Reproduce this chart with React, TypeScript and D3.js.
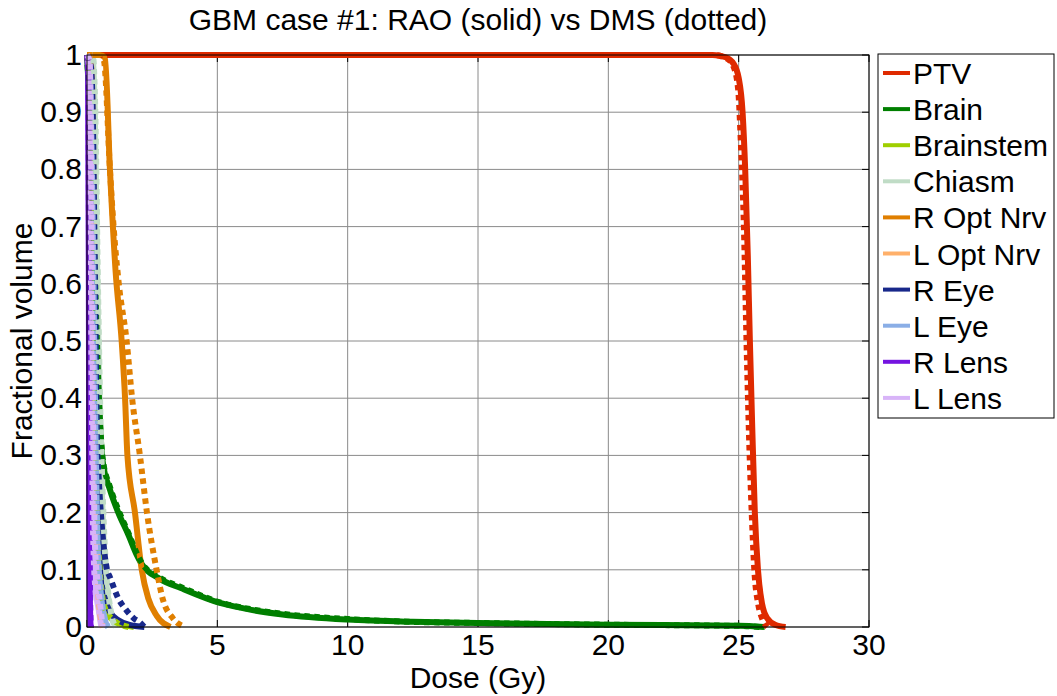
import React, { useEffect, useRef } from "react";
import * as d3 from "d3";

const title = "GBM case #1: RAO (solid) vs DMS (dotted)";
const xLabel = "Dose (Gy)";
const yLabel = "Fractional volume";
const xTicks = [0, 5, 10, 15, 20, 25, 30];
const yTicks = [0, 0.1, 0.2, 0.3, 0.4, 0.5, 0.6, 0.7, 0.8, 0.9, 1];

const structures = ["PTV", "Brain", "Brainstem", "Chiasm", "R Opt Nrv", "L Opt Nrv", "R Eye", "L Eye", "R Lens", "L Lens"];
const colors = ["#df2a00", "#007f00", "#9fcf00", "#c0dcc6", "#e07f00", "#ffb06a", "#18288a", "#8aaee6", "#7414e0", "#d8b4f8"];

// [dose (Gy), fractional volume]
const ptvRAO = [[0, 1], [24, 1], [24.5, 0.996], [24.8, 0.985], [25.0, 0.96], [25.15, 0.9], [25.25, 0.8], [25.35, 0.65], [25.43, 0.5], [25.52, 0.35], [25.62, 0.2], [25.74, 0.1], [25.9, 0.04], [26.1, 0.015], [26.4, 0.004], [26.8, 0]];
const ptvDMS = [[0, 1], [24, 1], [24.5, 0.995], [24.8, 0.98], [24.98, 0.94], [25.08, 0.85], [25.2, 0.7], [25.3, 0.5], [25.4, 0.33], [25.5, 0.2], [25.6, 0.1], [25.75, 0.04], [25.9, 0.015], [26.1, 0]];
const brainRAO = [[0, 1], [0.15, 0.85], [0.3, 0.6], [0.45, 0.4], [0.6, 0.29], [0.88, 0.24], [1.2, 0.2], [1.6, 0.16], [1.9, 0.127], [2.1, 0.11], [2.8, 0.084], [3.6, 0.068], [5.1, 0.042], [6.3, 0.03], [7.5, 0.022], [10, 0.013], [12.5, 0.009], [15, 0.007], [20, 0.004], [25, 0.002], [26, 0]];
const brainDMS = [[0, 1], [0.15, 0.86], [0.3, 0.62], [0.45, 0.41], [0.6, 0.295], [0.88, 0.245], [1.2, 0.205], [1.6, 0.163], [1.9, 0.13], [2.1, 0.112], [2.8, 0.086], [3.6, 0.07], [5.1, 0.043], [6.3, 0.031], [7.5, 0.023], [10, 0.014], [12.5, 0.009], [15, 0.007], [20, 0.004], [25, 0.002], [25.8, 0]];
const brainstemRAO = [[0, 1], [0.1, 0.95], [0.2, 0.7], [0.3, 0.4], [0.4, 0.2], [0.5, 0.08], [0.7, 0.03], [1.0, 0.012], [1.4, 0.004], [1.8, 0]];
const brainstemDMS = [[0, 1], [0.1, 0.96], [0.2, 0.72], [0.3, 0.42], [0.4, 0.21], [0.5, 0.09], [0.7, 0.032], [1.0, 0.013], [1.3, 0.004], [1.6, 0]];
const chiasmRAO = [[0, 1], [0.2, 1], [0.3, 0.9], [0.4, 0.6], [0.5, 0.35], [0.6, 0.2], [0.7, 0.1], [0.85, 0.04], [1.0, 0.01], [1.1, 0]];
const chiasmDMS = [[0, 1], [0.22, 1], [0.32, 0.9], [0.42, 0.6], [0.52, 0.36], [0.62, 0.21], [0.72, 0.11], [0.87, 0.04], [1.0, 0.01], [1.1, 0]];
const rOptRAO = [[0, 1], [0.5, 1], [0.69, 0.995], [0.88, 0.8], [1.1, 0.62], [1.33, 0.5], [1.46, 0.4], [1.55, 0.3], [1.84, 0.2], [2.1, 0.1], [2.35, 0.05], [2.67, 0.02], [3.2, 0]];
const rOptDMS = [[0, 1], [0.5, 1], [0.65, 0.99], [0.88, 0.8], [1.02, 0.7], [1.22, 0.6], [1.52, 0.5], [1.73, 0.4], [2.03, 0.3], [2.3, 0.2], [2.67, 0.1], [2.9, 0.05], [3.3, 0.015], [3.75, 0]];
const lOptRAO = [[0, 1], [0.15, 0.98], [0.25, 0.7], [0.3, 0.4], [0.35, 0.2], [0.4, 0.08], [0.5, 0.02], [0.6, 0]];
const lOptDMS = [[0, 1], [0.16, 0.98], [0.26, 0.72], [0.31, 0.42], [0.36, 0.21], [0.41, 0.09], [0.5, 0.025], [0.62, 0]];
const rEyeRAO = [[0, 1], [0.15, 0.97], [0.22, 0.85], [0.28, 0.6], [0.33, 0.4], [0.38, 0.25], [0.45, 0.15], [0.55, 0.08], [0.7, 0.047], [0.9, 0.025], [1.2, 0.012], [1.6, 0.004], [2.2, 0]];
const rEyeDMS = [[0, 1], [0.15, 0.98], [0.22, 0.9], [0.28, 0.7], [0.32, 0.55], [0.38, 0.33], [0.45, 0.26], [0.6, 0.16], [0.77, 0.1], [0.88, 0.087], [1.2, 0.05], [1.5, 0.03], [1.8, 0.015], [2.03, 0.008], [2.2, 0]];
const lEyeRAO = [[0, 1], [0.1, 0.97], [0.2, 0.75], [0.3, 0.4], [0.4, 0.15], [0.55, 0.05], [0.7, 0.01], [0.8, 0]];
const lEyeDMS = [[0, 1], [0.1, 0.98], [0.2, 0.77], [0.3, 0.42], [0.4, 0.16], [0.55, 0.055], [0.7, 0.012], [0.82, 0]];
const rLensRAO = [[0, 1], [0.04, 0.97], [0.07, 0.6], [0.09, 0.2], [0.11, 0.05], [0.14, 0]];
const rLensDMS = [[0, 1], [0.05, 0.97], [0.08, 0.6], [0.1, 0.2], [0.12, 0.05], [0.15, 0]];
const lLensRAO = [[0, 1], [0.08, 0.98], [0.13, 0.8], [0.17, 0.45], [0.22, 0.2], [0.3, 0.08], [0.45, 0.03], [0.55, 0]];
const lLensDMS = [[0, 1], [0.1, 0.99], [0.15, 0.85], [0.2, 0.55], [0.25, 0.3], [0.3, 0.15], [0.4, 0.08], [0.5, 0.04], [0.6, 0]];

const raoSeries = [ptvRAO, brainRAO, brainstemRAO, chiasmRAO, rOptRAO, lOptRAO, rEyeRAO, lEyeRAO, rLensRAO, lLensRAO];
const dmsSeries = [ptvDMS, brainDMS, brainstemDMS, chiasmDMS, rOptDMS, lOptDMS, rEyeDMS, lEyeDMS, rLensDMS, lLensDMS];

const W = 1057, H = 696;
const M = { left: 87, right: 869, top: 55, bottom: 627 };
const FONT = "Arial, 'Liberation Sans', sans-serif";

export default function App() {
  const ref = useRef<SVGSVGElement | null>(null);
  useEffect(() => {
    const svg = d3.select(ref.current);
    svg.selectAll("*").remove();
    const x = d3.scaleLinear().domain([0, 30]).range([M.left, M.right]);
    const y = d3.scaleLinear().domain([0, 1]).range([M.bottom, M.top]);

    svg.append("rect").attr("x", 0).attr("y", 0).attr("width", W).attr("height", H).attr("fill", "#fff");

    // grid
    const g = svg.append("g");
    xTicks.forEach((t) => {
      g.append("line").attr("x1", x(t)).attr("x2", x(t)).attr("y1", M.top).attr("y2", M.bottom).attr("stroke", "#8a8a8a").attr("stroke-width", 1);
    });
    yTicks.forEach((t) => {
      g.append("line").attr("x1", M.left).attr("x2", M.right).attr("y1", y(t)).attr("y2", y(t)).attr("stroke", "#8a8a8a").attr("stroke-width", 1);
    });
    // tick marks
    xTicks.forEach((t) => {
      g.append("line").attr("x1", x(t)).attr("x2", x(t)).attr("y1", M.bottom).attr("y2", M.bottom - 7).attr("stroke", "#000");
      g.append("line").attr("x1", x(t)).attr("x2", x(t)).attr("y1", M.top).attr("y2", M.top + 7).attr("stroke", "#000");
    });
    yTicks.forEach((t) => {
      g.append("line").attr("x1", M.left).attr("x2", M.left + 7).attr("y1", y(t)).attr("y2", y(t)).attr("stroke", "#000");
      g.append("line").attr("x1", M.right).attr("x2", M.right - 7).attr("y1", y(t)).attr("y2", y(t)).attr("stroke", "#000");
    });

    const line = d3.line<number[]>().x((d) => x(d[0])).y((d) => y(d[1])).curve(d3.curveMonotoneX);
    const lines = svg.append("g");
    raoSeries.forEach((s, i) => {
      lines.append("path").attr("d", line(s)).attr("fill", "none").attr("stroke", colors[i]).attr("stroke-width", 6).attr("stroke-linejoin", "round");
    });
    dmsSeries.forEach((s, i) => {
      lines.append("path").attr("d", line(s)).attr("fill", "none").attr("stroke", colors[i]).attr("stroke-width", 6).attr("stroke-dasharray", "5.5,4.5");
    });

    // axes box
    svg.append("rect").attr("x", M.left).attr("y", M.top).attr("width", M.right - M.left).attr("height", M.bottom - M.top).attr("fill", "none").attr("stroke", "#000").attr("stroke-width", 1);

    // tick labels
    xTicks.forEach((t) => {
      svg.append("text").attr("x", x(t)).attr("y", M.bottom + 28).attr("text-anchor", "middle").attr("font-family", FONT).attr("font-size", 30).text(String(t));
    });
    yTicks.forEach((t) => {
      svg.append("text").attr("x", M.left - 5).attr("y", y(t) + 10).attr("text-anchor", "end").attr("font-family", FONT).attr("font-size", 30).text(String(t));
    });

    svg.append("text").attr("x", 478).attr("y", 688).attr("text-anchor", "middle").attr("font-family", FONT).attr("font-size", 30).text(xLabel);
    svg.append("text").attr("transform", `translate(32,${(M.top + M.bottom) / 2}) rotate(-90)`).attr("text-anchor", "middle").attr("font-family", FONT).attr("font-size", 30).text(yLabel);
    svg.append("text").attr("x", 478).attr("y", 30).attr("text-anchor", "middle").attr("font-family", FONT).attr("font-size", 30).text(title);

    // legend
    const lg = svg.append("g");
    lg.append("rect").attr("x", 878).attr("y", 54).attr("width", 176).attr("height", 364).attr("fill", "#fff").attr("stroke", "#000");
    structures.forEach((name, i) => {
      const cy = 73 + i * 36.1;
      lg.append("line").attr("x1", 883).attr("x2", 910).attr("y1", cy).attr("y2", cy).attr("stroke", colors[i]).attr("stroke-width", 4);
      lg.append("text").attr("x", 913).attr("y", cy + 11).attr("font-family", FONT).attr("font-size", 30).text(name);
    });
  }, []);
  return <svg ref={ref} width={W} height={H} style={{ position: "absolute", left: 0, top: 0 }} />;
}
